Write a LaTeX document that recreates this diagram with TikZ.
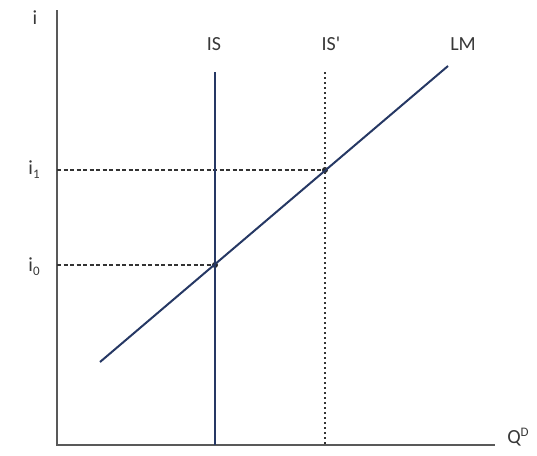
\documentclass[tikz,border=0pt]{standalone}
\usepackage{fontspec}
\setmainfont{Carlito}
\definecolor{navy}{RGB}{38,56,100}
\newcommand{\lowsub}[1]{\raisebox{-0.4ex}{\fontsize{13}{13}\selectfont #1}}
\newcommand{\highsup}[1]{\raisebox{0.8ex}{\fontsize{13}{13}\selectfont #1}}
\begin{document}
\begin{tikzpicture}[x=1pt,y=-1pt,
  axis/.style={draw=black!65,line width=1.8pt},
  curve/.style={draw=navy,line width=2pt},
  guide/.style={draw=black!80,line width=1.4pt,dash pattern=on 4pt off 2.5pt},
  dotted guide/.style={draw=black!80,line width=1.4pt,dash pattern=on 2pt off 3pt},
  lab/.style={font=\fontsize{20}{22}\selectfont,text=black!78,inner sep=0pt},
  pt/.style={circle,fill=black!85,inner sep=0pt,minimum size=6pt}]
\useasboundingbox (0,0) rectangle (537,455);
\coordinate (O) at (57,445);
\coordinate (ytop) at (57,10);
\coordinate (xend) at (495,445);
\coordinate (ISt) at (215,72);
\coordinate (ISb) at (215,445);
\coordinate (ISpt) at (325,72);
\coordinate (ISpb) at (325,445);
\coordinate (LMa) at (100,362);
\coordinate (LMb) at (448,66);
\coordinate (A1) at (57,170);
\coordinate (A0) at (57,265);
\node[pt] (E0) at (215,265) {};
\node[pt] (E1) at (325,170) {};
\draw[axis] (ytop) -- (O) -- (xend);
\draw[guide] (A1) -- (E1);
\draw[guide] (A0) -- (E0);
\draw[dotted guide] (ISpt) -- (ISpb);
\draw[curve] (ISt) -- (ISb);
\draw[curve] (LMa) -- (LMb);
\node[lab] (li) at (35,18) {i};
\node[lab] (lIS) at (214,44) {IS};
\node[lab] (lISp) at (331,44) {IS\textquotesingle};
\node[lab] (lLM) at (463,44) {LM};
\node[lab] (li1) at (34,170) {i\lowsub{1}};
\node[lab] (li0) at (34,267) {i\lowsub{0}};
\node[lab] (lQ) at (518,437) {Q\highsup{D}};
\end{tikzpicture}
\end{document}
